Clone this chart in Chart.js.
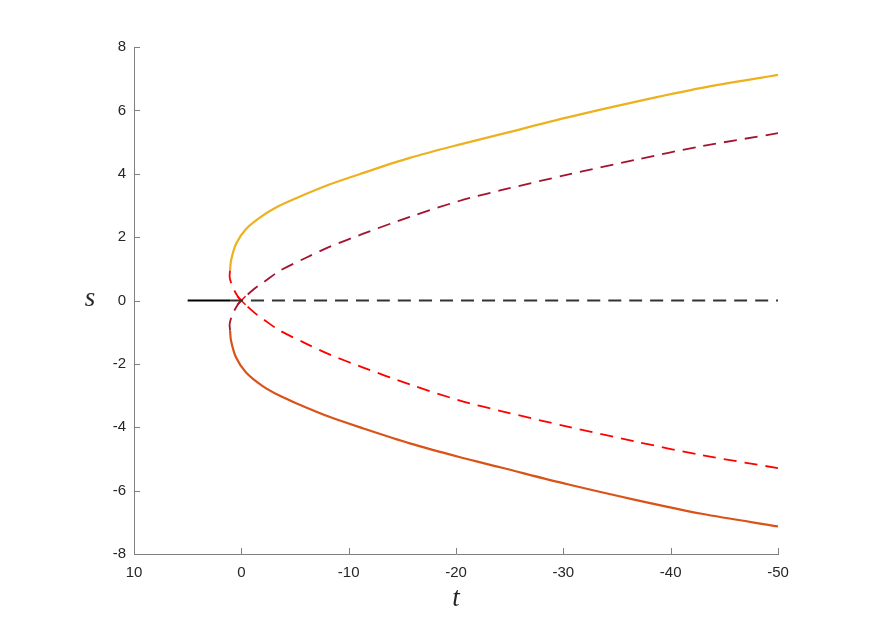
<!DOCTYPE html>
<html>
<head>
<meta charset="utf-8">
<script src="https://cdn.jsdelivr.net/npm/chart.js@4/dist/chart.umd.min.js"></script>
<style>
  body { margin: 0; background: #fff; }
  #wrap { width: 881px; height: 623px; position: relative; }
</style>
</head>
<body>
<div id="wrap"><canvas id="myChart"></canvas></div>
<script>
// values (t on x, s on y)
var blackSolidT = [5, 1.05];
var blackSolidS = [0, 0];
var blackDashT = [1.05, -50];
var blackDashS = [0, 0];

// upper solid branch (yellow)
var yellowT = [1.05, 0.96, 0.49, -0.44, -1.99, -3.54, -5.1, -8.2, -11.3, -15.7, -20.3, -24.2, -30.4, -36.7, -42.9, -50];
var yellowS = [0.95, 1.26, 1.79, 2.26, 2.68, 2.99, 3.23, 3.66, 4.02, 4.5, 4.92, 5.25, 5.78, 6.27, 6.71, 7.12];

// lower solid branch (orange)
var orangeT = [1.05, 0.96, 0.49, -0.44, -1.99, -3.54, -5.1, -8.2, -11.3, -15.7, -20.3, -24.2, -30.4, -36.7, -42.9, -50];
var orangeS = [-0.95, -1.27, -1.8, -2.27, -2.7, -3.0, -3.24, -3.67, -4.03, -4.51, -4.94, -5.27, -5.8, -6.29, -6.73, -7.13];

// dashed branch going up through the origin (maroon)
var maroonT = [1.05, 1.09, 0.95, 0.7, 0.35, 0, -1.24, -2.17, -3.54, -6.03, -8.2, -11.3, -15.7, -20.3, -24.2, -30.4, -36.7, -42.9, -50];
var maroonS = [-0.95, -0.75, -0.55, -0.35, -0.14, 0, 0.38, 0.6, 0.93, 1.35, 1.69, 2.1, 2.64, 3.14, 3.48, 3.97, 4.44, 4.87, 5.28];

// dashed branch going down through the origin (red)
var redT = [1.05, 1.09, 0.95, 0.7, 0.35, 0, -1.24, -2.17, -3.54, -6.03, -8.2, -11.3, -15.7, -20.3, -24.2, -30.4, -36.7, -42.9, -50];
var redS = [0.95, 0.75, 0.55, 0.35, 0.14, 0, -0.39, -0.62, -0.94, -1.36, -1.7, -2.11, -2.65, -3.15, -3.49, -3.98, -4.45, -4.88, -5.29];

// crossing point
var crossT = [0];
var crossS = [0];

var xTicks = [10, 0, -10, -20, -30, -40, -50];
var yTicks = [-8, -6, -4, -2, 0, 2, 4, 6, 8];

function pts(ts, ss) {
    return ts.map(function(t, i) { return { x: t, y: ss[i] }; });
}

// inward tick marks and the italic axis labels
var extras = {
    id: 'extras',
    afterDraw: function(chart) {
        var c = chart.ctx;
        var xs = chart.scales.x, ys = chart.scales.y;
        c.save();
        c.strokeStyle = '#808080';
        c.lineWidth = 1;
        xTicks.forEach(function(v) {
            var px = Math.round(xs.getPixelForValue(v)) + 0.5;
            c.beginPath(); c.moveTo(px, ys.bottom); c.lineTo(px, ys.bottom - 6); c.stroke();
        });
        yTicks.forEach(function(v) {
            var py = Math.round(ys.getPixelForValue(v)) + 0.5;
            c.beginPath(); c.moveTo(xs.left, py); c.lineTo(xs.left + 6, py); c.stroke();
        });
        c.fillStyle = '#262626';
        c.font = 'italic 27px "Liberation Serif", "DejaVu Serif", serif';
        c.textAlign = 'center';
        c.textBaseline = 'middle';
        c.fillText('t', (xs.left + xs.right) / 2, 599);
        c.fillText('s', 90, ys.getPixelForValue(0) - 2);
        c.restore();
    }
};

var ctx = document.getElementById('myChart').getContext('2d');
var myChart = new Chart(ctx, {
    type: 'line',
    data: {
        datasets: [{
            data: pts(blackSolidT, blackSolidS),
            borderColor: '#000000',
            borderWidth: 2.2
        }, {
            data: pts(blackDashT, blackDashS),
            borderColor: '#333333',
            borderWidth: 2,
            borderDash: [13, 8]
        }, {
            data: pts(yellowT, yellowS),
            borderColor: '#EDB120',
            borderWidth: 2.2
        }, {
            data: pts(orangeT, orangeS),
            borderColor: '#D95319',
            borderWidth: 2.2
        }, {
            data: pts(maroonT, maroonS),
            borderColor: '#A2142F',
            borderWidth: 1.8,
            borderDash: [13, 8]
        }, {
            data: pts(redT, redS),
            borderColor: '#FF0000',
            borderWidth: 1.8,
            borderDash: [13, 8]
        }, {
            data: pts(crossT, crossS),
            showLine: false,
            pointStyle: 'crossRot',
            pointRadius: 6,
            pointBorderWidth: 1.5,
            pointBorderColor: '#FF0000'
        }]
    },
    options: {
        responsive: true,
        maintainAspectRatio: false,
        animation: false,
        layout: { padding: { top: 47, right: 103, left: 0, bottom: 0 } },
        elements: {
            point: { radius: 0 },
            line: { tension: 0.3, fill: false }
        },
        plugins: {
            legend: { display: false },
            tooltip: { enabled: false }
        },
        scales: {
            x: {
                type: 'linear',
                reverse: true,
                min: -50,
                max: 10,
                afterFit: function(s) { s.height = 69; },
                afterBuildTicks: function(s) { s.ticks = xTicks.map(function(v) { return { value: v }; }); },
                grid: { display: false, drawTicks: false },
                border: { display: true, color: '#808080', width: 1 },
                ticks: {
                    padding: 10,
                    color: '#262626',
                    font: { family: '"Liberation Sans", Helvetica, Arial, sans-serif', size: 15 },
                    maxRotation: 0
                }
            },
            y: {
                type: 'linear',
                min: -8,
                max: 8,
                afterFit: function(s) { s.width = 134; },
                afterBuildTicks: function(s) { s.ticks = yTicks.map(function(v) { return { value: v }; }); },
                grid: { display: false, drawTicks: false },
                border: { display: true, color: '#808080', width: 1 },
                ticks: {
                    padding: 8,
                    color: '#262626',
                    font: { family: '"Liberation Sans", Helvetica, Arial, sans-serif', size: 15 }
                }
            }
        }
    },
    plugins: [extras]
});
</script>
</body>
</html>
